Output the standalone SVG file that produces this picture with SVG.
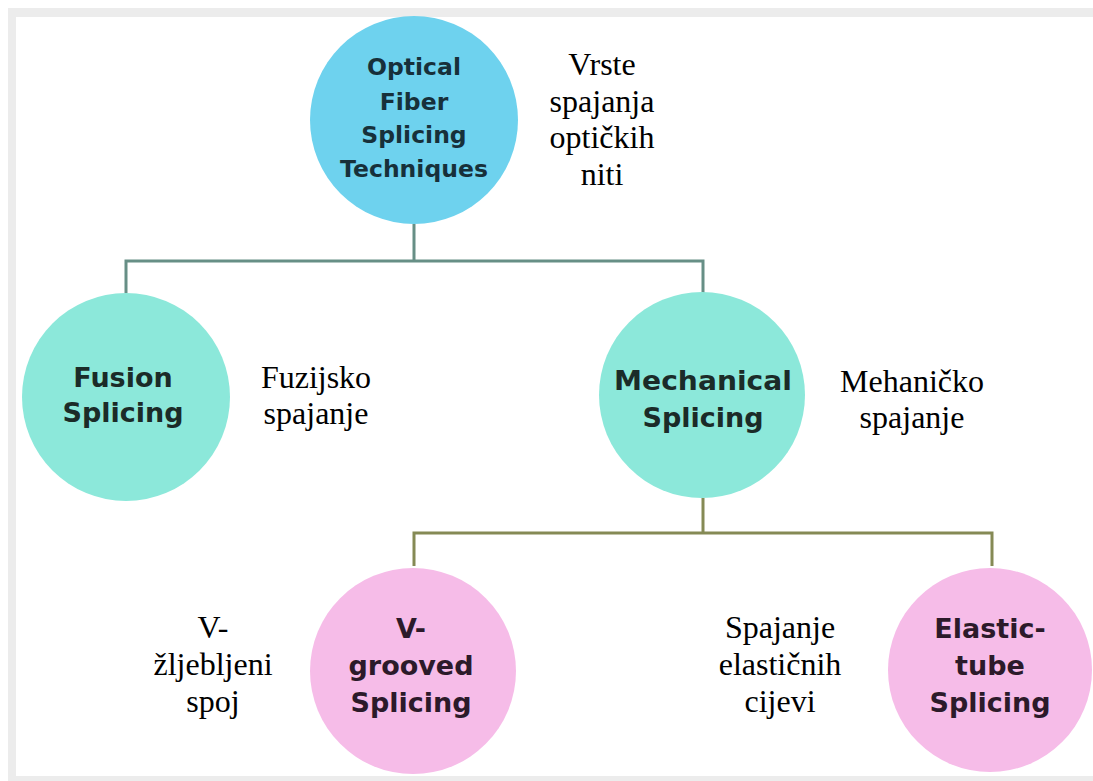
<svg xmlns="http://www.w3.org/2000/svg" width="1093" height="781" viewBox="0 0 1093 781">
<style>
.node-l{font-family:"DejaVu Sans","Liberation Sans",sans-serif;font-weight:bold;text-anchor:middle}
.lbl{font-family:"Liberation Serif","Times New Roman",serif;font-size:32px;fill:#000;text-anchor:middle}
.c1{stroke:#678f86;stroke-width:3;fill:none}
.c2{stroke:#858a55;stroke-width:3;fill:none}
</style>
<rect x="0" y="0" width="1093" height="781" fill="#ffffff"/>
<rect x="8" y="8" width="1085" height="9" fill="#ececec"/>
<rect x="8" y="8" width="8" height="773" fill="#ececec"/>
<rect x="8" y="776" width="1085" height="5" fill="#ececec"/>
<g id="connectors">
<path class="c1" d="M414 224 V261 M126 293 V261 H703 V293"/>
<path class="c2" d="M703 498 V533 M414 566 V533 H992 V566"/>
</g>
<g id="root">
<circle cx="414" cy="120" r="104" fill="#6ed2ee"/>
<text class="node-l" font-size="23.5" fill="#17303a"><tspan x="414" y="75">Optical</tspan><tspan x="414" y="110">Fiber</tspan><tspan x="414" y="143">Splicing</tspan><tspan x="414" y="177">Techniques</tspan></text>
</g>
<g id="root-label"><text class="lbl"><tspan x="602" y="75">Vrste</tspan><tspan x="602" y="112">spajanja</tspan><tspan x="602" y="148">optičkih</tspan><tspan x="602" y="185">niti</tspan></text></g>
<g id="fusion">
<circle cx="126" cy="397" r="104" fill="#8ce8da"/>
<text class="node-l" font-size="27" fill="#1b2b28"><tspan x="123" y="387">Fusion</tspan><tspan x="123" y="422">Splicing</tspan></text>
</g>
<g id="fusion-label"><text class="lbl"><tspan x="316" y="388">Fuzijsko</tspan><tspan x="316" y="424">spajanje</tspan></text></g>
<g id="mechanical">
<circle cx="702" cy="395" r="103" fill="#8ce8da"/>
<text class="node-l" font-size="27" fill="#1b2b28"><tspan x="703" y="390" textLength="178" lengthAdjust="spacingAndGlyphs">Mechanical</tspan><tspan x="703" y="427">Splicing</tspan></text>
</g>
<g id="mechanical-label"><text class="lbl"><tspan x="912" y="392">Mehaničko</tspan><tspan x="912" y="428">spajanje</tspan></text></g>
<g id="vgrooved">
<circle cx="413" cy="671" r="103" fill="#f6bce8"/>
<text class="node-l" font-size="27" fill="#2c1a2a"><tspan x="411" y="638">V-</tspan><tspan x="411" y="675">grooved</tspan><tspan x="411" y="712">Splicing</tspan></text>
</g>
<g id="vgrooved-label"><text class="lbl"><tspan x="213" y="638">V-</tspan><tspan x="213" y="675">žljebljeni</tspan><tspan x="213" y="712">spoj</tspan></text></g>
<g id="elastic">
<circle cx="990" cy="670" r="102" fill="#f6bce8"/>
<text class="node-l" font-size="27" fill="#2c1a2a"><tspan x="990" y="638">Elastic-</tspan><tspan x="990" y="675">tube</tspan><tspan x="990" y="712">Splicing</tspan></text>
</g>
<g id="elastic-label"><text class="lbl"><tspan x="780" y="638">Spajanje</tspan><tspan x="780" y="675">elastičnih</tspan><tspan x="780" y="712">cijevi</tspan></text></g>
</svg>
